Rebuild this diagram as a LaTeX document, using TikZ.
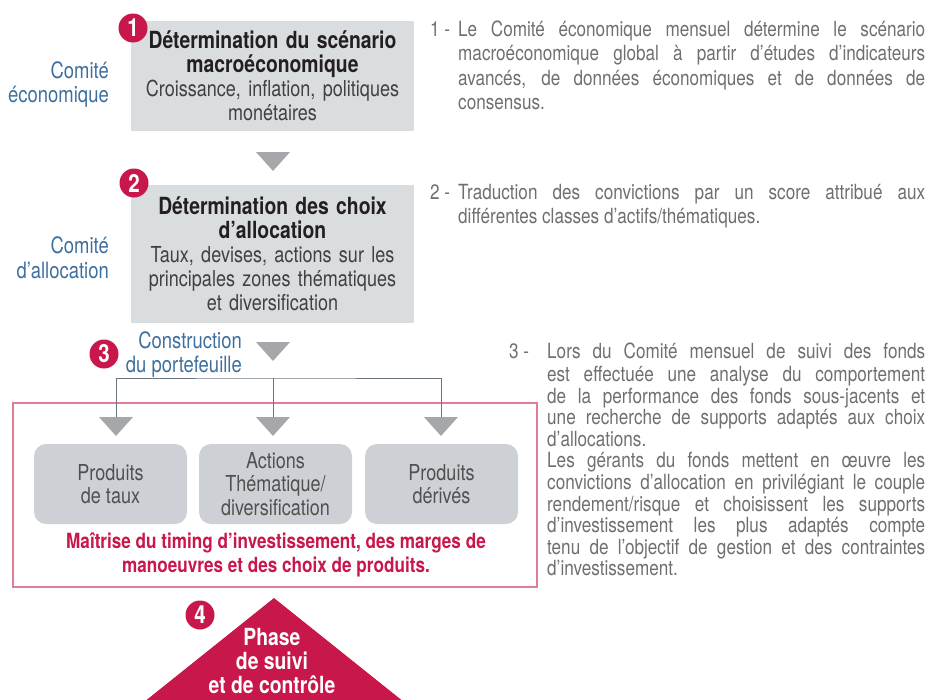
\documentclass[tikz,border=0pt]{standalone}
\usepackage{fontspec}
\setmainfont{TeX Gyre Heros}[FakeStretch=0.82]
\definecolor{boxgray}{HTML}{D9DDE0}
\definecolor{prodgray}{HTML}{CDD1D5}
\definecolor{arrowgray}{HTML}{A6A7AA}
\definecolor{wiregray}{HTML}{6B7580}
\definecolor{accent}{HTML}{C8174A}
\definecolor{framered}{HTML}{E07C93}
\definecolor{comblue}{HTML}{3D6F9E}
\definecolor{headink}{HTML}{231F20}
\definecolor{bodyink}{HTML}{404040}
\definecolor{prodink}{HTML}{505050}
\definecolor{noteink}{HTML}{6F6F6F}
\newcommand{\hd}[1]{{\fontsize{23.6}{24}\selectfont\bfseries\color{headink}#1}}

\begin{document}
\begin{tikzpicture}[x=1pt,y=-1pt,
  stage/.style={fill=boxgray,inner sep=0pt,text width=283pt,align=center,
    text=bodyink,font=\fontsize{22}{24}\selectfont},
  badge/.style={circle,fill=accent,text=white,inner sep=0pt,minimum size=29pt,
    font=\fontsize{25}{25}\selectfont\bfseries},
  comite/.style={text=comblue,align=right,anchor=east,inner sep=0pt,
    font=\fontsize{22.5}{24.5}\selectfont},
  prod/.style={fill=prodgray,rounded corners=12pt,minimum width=153pt,
    minimum height=80pt,inner sep=0pt,align=center,text=prodink,
    font=\fontsize{22}{23.5}\selectfont},
  note/.style={text=noteink,anchor=north west,inner sep=0pt,align=justify,
    font=\fontsize{20.9}{24.4}\selectfont},
  wire/.style={draw=wiregray,line width=0.9pt},
  downtri/.pic={\fill[arrowgray] (-17,0) -- (17,0) -- (0,19) -- cycle;}]
\useasboundingbox (0,0) rectangle (937,699);

\node[stage,minimum height=110pt] (scenario) at (272.5,76)
  {\hd{Détermination du scénario}\\\hd{macroéconomique}\\Croissance, inflation, politiques\\monétaires};
\node[stage,minimum height=138pt] (allocation) at (272.5,254)
  {\hd{Détermination des choix}\\\hd{d’allocation}\\Taux, devises, actions sur les\\principales zones thématiques\\et diversification};
\node[badge] (b1) at (133,28) {1};
\node[badge] (b2) at (134,183) {2};
\node[comite] (ceco) at (109,84.5) {Comité\\économique};
\node[comite] (calloc) at (109,258) {Comité\\d’allocation};
\pic at (273,152) {downtri};
\pic at (273,342) {downtri};

\node[comite] (constr) at (242,354.5) {Construction\\du portefeuille};
\node[badge] (b3) at (104,354) {3};

\node[draw=framered,line width=1.1pt,minimum width=524pt,minimum height=184pt,inner sep=0pt] (frame) at (275,495) {};
\coordinate (fork) at (273,378);
\coordinate (pA) at (116,417);
\coordinate (pB) at (273,417);
\coordinate (pC) at (441,417);
\draw[wire] (pA) |- (fork) -| (pC);
\draw[wire] (fork) -- (pB);
\pic at (pA) {downtri};
\pic at (pB) {downtri};
\pic at (pC) {downtri};

\node[prod] (taux) at (110.5,484) {Produits\\de taux};
\node[prod] (actions) at (275.5,484) {Actions\\Thématique/\\diversification};
\node[prod] (derives) at (441.5,484) {Produits\\dérivés};
\node[text=accent,align=center,font=\fontsize{20.9}{24}\selectfont\bfseries] (maitrise) at (276,555)
  {Maîtrise du timing d’investissement, des marges de\\manoeuvres et des choix de produits.};

\fill[accent] (134,710) -- (274,598) -- (414,710) -- cycle;
\node[text=white,align=center,font=\fontsize{23.6}{24}\selectfont\bfseries] (phase) at (272,661)
  {Phase\\de suivi\\et de contrôle};
\node[badge] (b4) at (200,615) {4};

\node[note] (k1) at (430,19) {\strut 1 -};
\node[note,text width=467pt] (n1) at (458,19)
  {\strut Le Comité économique mensuel détermine le scénario\linebreak macroéconomique global à partir d’études d’indicateurs\linebreak avancés, de données économiques et de données de\linebreak consensus.};
\node[note] (k2) at (430,182) {\strut 2 -};
\node[note,text width=467pt] (n2) at (458,182)
  {\strut Traduction des convictions par un score attribué aux\linebreak différentes classes d’actifs/thématiques.};
\node[note,font=\fontsize{20.9}{21.6}\selectfont] (k3) at (509,343) {\strut 3 -};
\node[note,text width=378pt,font=\fontsize{20.9}{21.6}\selectfont] (n3) at (547,343)
  {\strut Lors du Comité mensuel de suivi des fonds\linebreak est effectuée une analyse du comportement\linebreak de la performance des fonds sous-jacents et\linebreak une recherche de supports adaptés aux choix\linebreak d’allocations.\\Les gérants du fonds mettent en œuvre les\linebreak convictions d’allocation en privilégiant le couple\linebreak rendement/risque et choisissent les supports\linebreak d’investissement les plus adaptés compte\linebreak tenu de l’objectif de gestion et des contraintes\linebreak d’investissement.};
\end{tikzpicture}
\end{document}
